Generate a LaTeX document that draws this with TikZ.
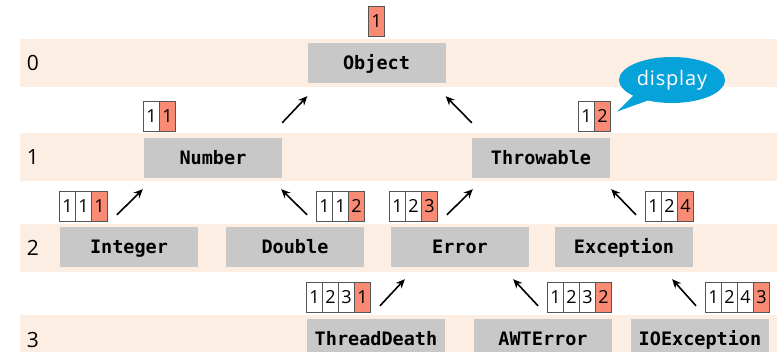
\documentclass[tikz,border=0pt]{standalone}
\usepackage{fontspec}
\setmainfont{Open Sans}
\newfontfamily\codefont{DejaVu Sans Mono}
\newfontfamily\bubblefont[LetterSpace=4]{Open Sans}
\usetikzlibrary{positioning,matrix,arrows.meta,shapes.callouts}

\definecolor{band}{HTML}{FDEEE3}
\definecolor{boxgray}{HTML}{C8C8C8}
\definecolor{salmon}{HTML}{F98B75}
\definecolor{cellline}{HTML}{555555}
\definecolor{bubble}{HTML}{06A3DA}

\tikzset{
  cls/.style={fill=boxgray, minimum width=138pt, minimum height=40pt, inner sep=0pt,
    text height=16pt, text depth=3.5pt, font=\codefont\bfseries\fontsize{18.5}{20}\selectfont},
  cell/.style={draw=cellline, line width=0.8pt, fill=white, minimum width=16pt,
    minimum height=30pt, inner sep=0pt, font=\fontsize{18}{20}\selectfont},
  hot/.style={cell, fill=salmon},
  idx/.style={matrix of nodes, nodes={cell}, column sep=-0.8pt, inner sep=0pt},
  isa/.style={-{Stealth[length=9pt,width=8pt]}, line width=1.6pt},
  lvl/.style={font=\fontsize{21}{24}\selectfont},
  say/.style={ellipse callout, fill=bubble, text=white, inner sep=0pt, minimum width=106pt,
    minimum height=46pt, callout pointer arc=20, font=\bubblefont\fontsize{20}{24}\selectfont}
}

\begin{document}
\begin{tikzpicture}[x=1pt,y=1pt]
\useasboundingbox (0,0) rectangle (777,-351);
\clip (0,0) rectangle (777,-351);

% levels
\fill[band] (20,-39) rectangle (777,-87);
\fill[band] (20,-133) rectangle (777,-181);
\fill[band] (20,-224) rectangle (777,-272);
\fill[band] (20,-315) rectangle (777,-363);

\node[lvl] (r0) at (33,-63) {0};
\node[lvl] (r1) at (33,-157) {1};
\node[lvl] (r2) at (33,-248) {2};
\node[lvl] (r3) at (33,-340) {3};

% classes
\node[cls] (Object) at (376.5,-63) {Object};
\node[cls] (Number) at (213,-158) {Number};
\node[cls] (Throwable) at (541,-158) {Throwable};
\node[cls] (Integer) at (129,-247) {Integer};
\node[cls] (Double) at (295,-247) {Double};
\node[cls] (Error) at (460,-247) {Error};
\node[cls] (Exception) at (624,-247) {Exception};
\node[cls] (ThreadDeath) at (376,-339) {ThreadDeath};
\node[cls] (AWTError) at (543,-339) {AWTError};
\node[cls] (IOException) at (700,-339) {IOException};

% indices
\matrix[idx, anchor=south] (tObject) at ([yshift=6pt]Object.north) {|[hot]| 1\\};
\matrix[idx, anchor=south west] (tNumber) at ([shift={(-1,6)}]Number.north west) {1 & |[hot]| 1\\};
\matrix[idx, anchor=south east] (tThrowable) at ([shift={(1,6)}]Throwable.north east) {1 & |[hot]| 2\\};
\matrix[idx, anchor=south west] (tInteger) at ([shift={(-1,5)}]Integer.north west) {1 & 1 & |[hot]| 1\\};
\matrix[idx, anchor=south east] (tDouble) at ([shift={(1,5)}]Double.north east) {1 & 1 & |[hot]| 2\\};
\matrix[idx, anchor=south west] (tError) at ([shift={(-2,5)}]Error.north west) {1 & 2 & |[hot]| 3\\};
\matrix[idx, anchor=south east] (tException) at ([shift={(1,5)}]Exception.north east) {1 & 2 & |[hot]| 4\\};
\matrix[idx, anchor=south west] (tThreadDeath) at ([shift={(-1,6)}]ThreadDeath.north west) {1 & 2 & 3 & |[hot]| 1\\};
\matrix[idx, anchor=south east] (tAWTError) at ([yshift=6pt]AWTError.north east) {1 & 2 & 3 & |[hot]| 2\\};
\matrix[idx, anchor=south east] (tIOException) at ([shift={(1,6)}]IOException.north east) {1 & 2 & 4 & |[hot]| 3\\};

% is-a arrows
\draw[isa] ([yshift=15pt]Number.north east) -- ([yshift=-13pt]Object.south west);
\draw[isa] ([yshift=15pt]Throwable.north west) -- ([yshift=-13pt]Object.south east);
\draw[isa] ([shift={(9,7)}]tInteger.south east) -- ([shift={(-1,-11)}]Number.south west);
\draw[isa] ([shift={(-9,7)}]tDouble.south west) -- ([shift={(-1,-11)}]Number.south east);
\draw[isa] ([shift={(9,7)}]tError.south east) -- ([shift={(1,-11)}]Throwable.south west);
\draw[isa] ([shift={(-9,7)}]tException.south west) -- ([shift={(1,-11)}]Throwable.south east);
\draw[isa] ([shift={(9,7)}]tThreadDeath.south east) -- ([shift={(14,-12)}]Error.south west);
\draw[isa] ([shift={(-9,7)}]tAWTError.south west) -- ([shift={(-16,-12)}]Error.south east);
\draw[isa] ([shift={(-9,7)}]tIOException.south west) -- ([shift={(-21,-12)}]Exception.south east);

\node[say, callout absolute pointer={([shift={(6,-11)}]tThrowable.north east)}] (note) at (672,-80) {display};

\end{tikzpicture}
\end{document}
